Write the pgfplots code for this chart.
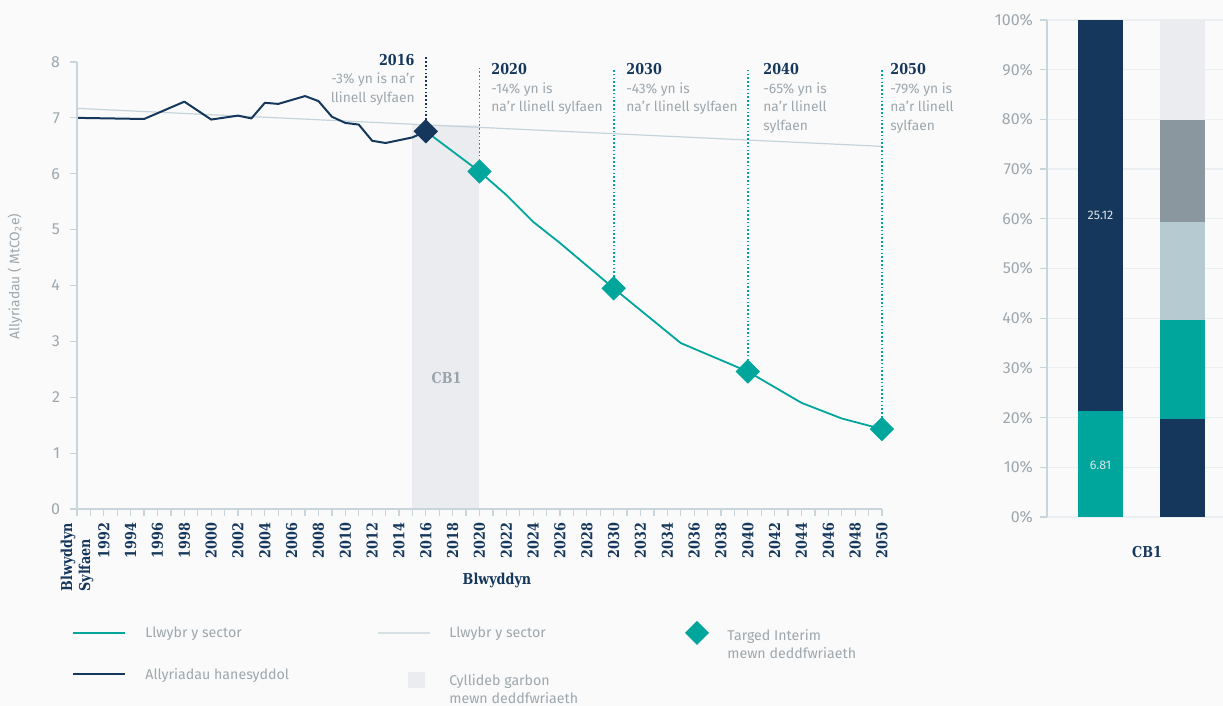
\documentclass[border=0pt]{standalone}
\usepackage{fontspec}
\setmainfont{Fira Sans}
\newfontfamily\slab[FakeStretch=0.85]{DejaVu Serif}
\usepackage{pgfplots}
\pgfplotsset{compat=1.18}
\definecolor{navy}{HTML}{16375C}
\definecolor{tealc}{HTML}{00A69C}
\definecolor{grayt}{HTML}{9EA7AD}
\definecolor{axisc}{HTML}{C8D6DC}
\definecolor{basec}{HTML}{C5D3DA}
\definecolor{cbshade}{HTML}{EAECF0}
\definecolor{cbtext}{HTML}{9AA3AA}
\definecolor{bgc}{HTML}{FAFAFA}
\definecolor{lblue}{HTML}{B6CAD1}
\definecolor{mgray}{HTML}{8A979E}
\definecolor{gridc}{HTML}{ECEFF1}
\definecolor{barlab}{HTML}{DCE4E8}
\newcommand{\ann}{\fontsize{6.9}{9.25}\selectfont}
\newcommand{\leg}{\fontsize{7.1}{9}\selectfont}
\newcommand{\slabb}{\slab\bfseries\fontsize{7.5}{9}\selectfont}
\begin{document}
\begin{tikzpicture}[x=1pt,y=1pt]
\fill[bgc] (0,0) rectangle (611.5,353);
% ---------------- main chart
\begin{axis}[
  at={(38.5pt,98.5pt)}, anchor=south west,
  scale only axis, width=402.5pt, height=223.5pt,
  xmin=1990, xmax=2050, ymin=0, ymax=8,
  axis x line*=bottom, axis y line*=left,
  axis line style={draw=axisc, line width=0.6pt, -},
  tick style={draw=axisc, line width=0.6pt},
  tick align=outside, major tick length=3.5pt, minor tick length=3.5pt,
  xtick={1990,1992,...,2050},
  minor xtick={1991,1993,...,2049},
  xticklabels={{Blwyddyn\\Sylfaen},1992,1994,1996,1998,2000,2002,2004,2006,2008,2010,2012,2014,2016,2018,2020,2022,2024,2026,2028,2030,2032,2034,2036,2038,2040,2042,2044,2046,2048,2050},
  xticklabel style={rotate=90, anchor=east, align=left, font=\slabb, text=navy},
  ytick={0,1,...,8},
  /pgf/number format/assume math mode=true,
  yticklabel style={font=\fontsize{8}{9}\selectfont, text=grayt, xshift=-1.5pt},
  clip=false, axis on top,
]
\addplot[fill=cbshade, draw=none] coordinates {(2015,6.87) (2020,6.87)} \closedcycle;
\addplot[basec, line width=0.6pt] coordinates {(1990,7.17) (2050,6.49)};
\addplot[navy, line width=1pt, line join=round] coordinates {
 (1990,7.00) (1995,6.98) (1998,7.29) (2000,6.97) (2002,7.04) (2003,6.99)
 (2004,7.27) (2005,7.25) (2007,7.39) (2008,7.30) (2009,7.02) (2010,6.91)
 (2011,6.88) (2012,6.59) (2013,6.55) (2015,6.65) (2016,6.76)};
\addplot[tealc, line width=0.9pt, line join=round] coordinates {
 (2016,6.76) (2020,6.04) (2022,5.62) (2024,5.14) (2026,4.76) (2030,3.95)
 (2035,2.97) (2040,2.46) (2044,1.90) (2047,1.62) (2050,1.43)};
\addplot[navy, line width=0.85pt, dash pattern=on 0.8pt off 1.1pt] coordinates {(2016,6.76) (2016,8.09)};
\addplot[tealc, line width=0.85pt, dash pattern=on 0.8pt off 1.1pt] coordinates {(2020,6.04) (2020,7.89)};
\addplot[tealc, line width=0.85pt, dash pattern=on 0.8pt off 1.1pt] coordinates {(2030,3.95) (2030,7.89)};
\addplot[tealc, line width=0.85pt, dash pattern=on 0.8pt off 1.1pt] coordinates {(2040,2.46) (2040,7.89)};
\addplot[tealc, line width=0.85pt, dash pattern=on 0.8pt off 1.1pt] coordinates {(2050,1.43) (2050,7.89)};
\addplot[only marks, mark=square*, mark size=4.1pt, mark options={rotate=45, fill=tealc, draw=tealc}] coordinates {(2020,6.04) (2030,3.95) (2040,2.46) (2050,1.43)};
\addplot[only marks, mark=square*, mark size=4.1pt, mark options={rotate=45, fill=navy, draw=navy}] coordinates {(2016,6.76)};
\node[font=\slabb, text=cbtext] at (axis cs:2017.55,2.34) {CB1};
\end{axis}
% ---------------- bar chart
\begin{axis}[
  at={(523.5pt,94.5pt)}, anchor=south west,
  scale only axis, width=88pt, height=248.5pt,
  xmin=0, xmax=176, ymin=0, ymax=100,
  axis x line=none, axis y line*=left,
  axis line style={draw=axisc, line width=0.6pt, -},
  tick style={draw=axisc, line width=0.6pt},
  tick align=outside, major tick length=3.5pt,
  xtick=\empty,
  ytick={0,10,...,100},
  yticklabels={0\%,10\%,20\%,30\%,40\%,50\%,60\%,70\%,80\%,90\%,100\%},
  yticklabel style={font=\fontsize{8}{9}\selectfont, text=grayt},
  ymajorgrids, grid style={draw=gridc, line width=0.6pt},
  ybar stacked, bar width=22.5pt,
  clip=false,
]
\addplot[fill=tealc, draw=none] coordinates {(53.5,21.33) (135.5,0)};
\addplot[fill=navy, draw=none] coordinates {(53.5,78.67) (135.5,0)};
\addplot[fill=navy, draw=none] coordinates {(53.5,0) (135.5,19.7)};
\addplot[fill=tealc, draw=none] coordinates {(53.5,0) (135.5,19.9)};
\addplot[fill=lblue, draw=none] coordinates {(53.5,0) (135.5,19.8)};
\addplot[fill=mgray, draw=none] coordinates {(53.5,0) (135.5,20.5)};
\addplot[fill=cbshade, draw=none] coordinates {(53.5,0) (135.5,20.1)};
\end{axis}
\node[font=\fontsize{6.2}{7}\selectfont, text=barlab] at (550.25,120.5) {6.81};
\node[font=\fontsize{6.2}{7}\selectfont, text=barlab] at (550.25,245.5) {25.12};
% ---------------- texts
\node[rotate=90, font=\ann, text=grayt] at (7.5,214.75) {Allyriadau ( MtCO\textsubscript{2}e)};
\node[font=\slabb, text=navy] at (248.5,63) {Blwyddyn};
\node[font=\slabb, text=navy] at (573.5,77) {CB1};
\node[anchor=north east, inner sep=0pt, align=right, font=\ann, text=grayt] at (207.5,326.25)
  {{\slabb\color{navy}2016}\\-3\% yn is na’r\\llinell sylfaen};
\node[anchor=north west, inner sep=0pt, align=left, font=\ann, text=grayt] at (245.5,321.5)
  {{\slabb\color{navy}2020}\\-14\% yn is\\na’r llinell sylfaen};
\node[anchor=north west, inner sep=0pt, align=left, font=\ann, text=grayt] at (313,321.5)
  {{\slabb\color{navy}2030}\\-43\% yn is\\na’r llinell sylfaen};
\node[anchor=north west, inner sep=0pt, align=left, font=\ann, text=grayt] at (381.5,321.5)
  {{\slabb\color{navy}2040}\\-65\% yn is\\na’r llinell\\sylfaen};
\node[anchor=north west, inner sep=0pt, align=left, font=\ann, text=grayt] at (445,321.5)
  {{\slabb\color{navy}2050}\\-79\% yn is\\na’r llinell\\sylfaen};
% ---------------- legend
\draw[tealc, line width=1pt] (36.5,36.5) -- (62.5,36.5);
\node[anchor=west, inner sep=0pt, font=\leg, text=grayt] at (72.5,36) {Llwybr y sector};
\draw[navy, line width=1pt] (36.5,16) -- (62.5,16);
\node[anchor=west, inner sep=0pt, font=\leg, text=grayt] at (72.5,15.5) {Allyriadau hanesyddol};
\draw[basec!70!white, line width=1pt] (189,36.5) -- (215,36.5);
\node[anchor=west, inner sep=0pt, font=\leg, text=grayt] at (224.5,36) {Llwybr y sector};
\fill[cbshade] (204,9) rectangle (212.5,17);
\node[anchor=west, inner sep=0pt, align=left, font=\leg, text=grayt] at (224.5,8.5) {Cyllideb garbon\\mewn deddfwriaeth};
\fill[tealc] (348.5,42.5) -- (354.5,36.5) -- (348.5,30.5) -- (342.5,36.5) -- cycle;
\node[anchor=west, inner sep=0pt, align=left, font=\leg, text=grayt] at (363.5,31) {Targed Interim\\mewn deddfwriaeth};
\pgfresetboundingbox
\path[use as bounding box] (0,0) rectangle (611.5,353);
\end{tikzpicture}
\end{document}
